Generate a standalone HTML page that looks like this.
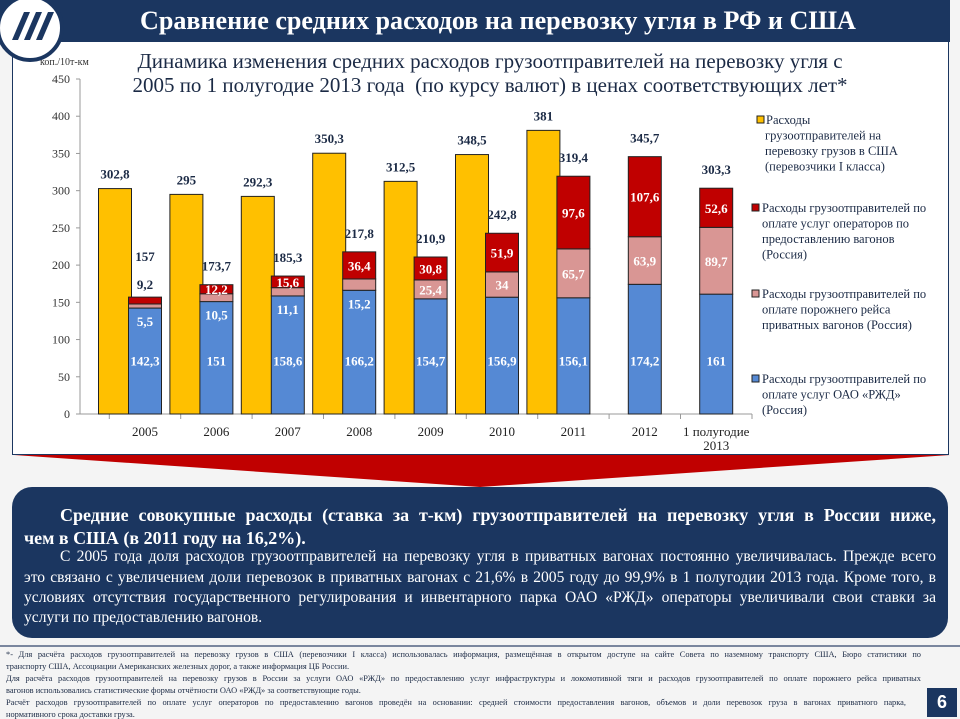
<!DOCTYPE html>
<html lang="ru"><head><meta charset="utf-8">
<style>
html,body{margin:0;padding:0;width:960px;height:717px;overflow:hidden;background:#f4f4f4;font-family:"Liberation Serif","Noto Serif CJK SC",serif;}
.abs{position:absolute}
#title-bar{left:0;top:0;width:950px;height:42px;background:#1b3660;color:#fff;}
#title-text{left:140px;top:5px;font-size:26.5px;font-weight:bold;white-space:nowrap;transform:scaleX(0.985);transform-origin:left top;}
#logo{left:-4px;top:-6px;width:68px;height:68px;border-radius:50%;background:#fff;border:4px solid #1b3660;box-sizing:border-box;}
#panel{left:12px;top:42px;width:937px;height:413px;background:#fff;border:1px solid #1b3660;border-top:none;box-sizing:border-box;}
#subtitle{left:100px;top:49px;width:780px;text-align:center;font-size:21px;line-height:24px;color:#1b2a45;white-space:nowrap;}
#summary{left:12px;top:487px;width:936px;height:151px;background:#1b3660;border-radius:20px;color:#fff;overflow:hidden;}
.ln{position:absolute;left:12px;width:912px;white-space:nowrap;text-align:justify;text-align-last:justify;transform-origin:left top;}
.last{text-align-last:left;}
.big{font-size:18px;font-weight:bold;}
.small{font-size:15.6px;}
#footnote{left:6px;top:650px;width:920px;font-size:8.4px;color:#1b2a45;}
.fl{position:absolute;left:0;width:915px;white-space:nowrap;text-align:justify;text-align-last:justify;transform-origin:left top;}
#sep{left:0;top:645px;width:960px;height:2px;background:#7a869e}
#pagenum{left:927px;top:688px;width:30px;height:29px;background:#1b3660;color:#fff;font:bold 18px "Liberation Sans",sans-serif;text-align:center;line-height:29px;}
</style></head><body>
<div class="abs" id="title-bar"><div class="abs" id="title-text">Сравнение средних расходов на перевозку угля в РФ и США</div></div>
<div class="abs" id="panel"></div>
<div class="abs" id="logo">
<svg width="60" height="60" viewBox="0 0 60 60"><g fill="#1b3660"><path d="M12 42 L24 14 L30 14 L18 42Z"/><path d="M24 42 L36 14 L42 14 L30 42Z"/><path d="M36 42 L48 14 L54 14 L42 42Z"/></g></svg></div>
<div class="abs" id="subtitle">Динамика изменения средних расходов грузоотправителей на перевозку угля с<br>2005 по 1 полугодие 2013 года&nbsp; (по курсу валют) в ценах соответствующих лет*</div>
<svg class="abs" style="left:0;top:0" width="960" height="490" id="chart">
<polygon points="14,455 950,455 480,487" fill="#c00000"/>
</svg>
<div class="abs" id="summary">
<div class="ln big" style="top:18px;left:48px;width:876px">Средние совокупные расходы (ставка за т-км) грузоотправителей на перевозку угля в России ниже,</div>
<div class="ln big last" style="top:41px">чем в США (в 2011 году на 16,2%).</div>
<div class="ln small" style="top:61px;left:48px;width:876px">С 2005 года доля расходов грузоотправителей на перевозку угля в приватных вагонах постоянно увеличивалась. Прежде всего</div>
<div class="ln small" style="top:82px">это связано с увеличением доли перевозок в приватных вагонах с 21,6% в 2005 году до 99,9% в 1 полугодии 2013 года. Кроме того, в</div>
<div class="ln small" style="top:102px">условиях отсутствия государственного регулирования и инвентарного парка ОАО «РЖД» операторы увеличивали свои ставки за</div>
<div class="ln small last" style="top:122px">услуги по предоставлению вагонов.</div>
</div>
<div class="abs" id="sep"></div>
<div class="abs" id="footnote">
<div class="fl" style="top:0">*- Для расчёта расходов грузоотправителей на перевозку грузов в США (перевозчики I класса) использовалась информация, размещённая в открытом доступе на сайте Совета по наземному транспорту США, Бюро статистики по</div>
<div class="fl" style="top:12px;text-align-last:left">транспорту США, Ассоциации Американских железных дорог, а также информация ЦБ России.</div>
<div class="fl" style="top:24px">Для расчёта расходов грузоотправителей на перевозку грузов в России за услуги ОАО «РЖД» по предоставлению услуг инфраструктуры и локомотивной тяги и расходов грузоотправителей по оплате порожнего рейса приватных</div>
<div class="fl" style="top:36px;text-align-last:left">вагонов использовались статистические формы отчётности ОАО «РЖД» за соответствующие годы.</div>
<div class="fl" style="top:48px;width:900px">Расчёт расходов грузоотправителей по оплате услуг операторов по предоставлению вагонов проведён на основании: средней стоимости предоставления вагонов, объемов и доли перевозок груза в вагонах приватного парка,</div>
<div class="fl" style="top:60px;text-align-last:left">нормативного срока доставки груза.</div>
</div>
<div class="abs" id="pagenum">6</div>
<script>
const categories=["2005","2006","2007","2008","2009","2010","2011","2012","1 полугодие|2013"];
const usValues=[302.8,295,292.3,350.3,312.5,348.5,381,null,null];
const rzdValues=[142.3,151,158.6,166.2,154.7,156.9,156.1,174.2,161];
const emptyRunValues=[5.5,10.5,11.1,15.2,25.4,34,65.7,63.9,89.7];
const operatorValues=[9.2,12.2,15.6,36.4,30.8,51.9,97.6,107.6,52.6];
const totalValues=[157,173.7,185.3,217.8,210.9,242.8,319.4,345.7,303.3];
const yTicks=[0,50,100,150,200,250,300,350,400,450];
const legendLabels=[["Расходы","грузоотправителей на","перевозку грузов  в США","(перевозчики I класса)"],["Расходы грузоотправителей по","оплате услуг операторов по","предоставлению вагонов","(Россия)"],["Расходы грузоотправителей по","оплате порожнего рейса","приватных вагонов (Россия)"],["Расходы грузоотправителей по","оплате услуг ОАО «РЖД»","(Россия)"]];

document.querySelectorAll('.ln,.fl').forEach(el=>{
 const target=el.clientWidth;
 const s=document.createElement('span');
 s.style.whiteSpace='nowrap';
 s.textContent=el.textContent;
 el.textContent='';el.appendChild(s);
 const w=s.getBoundingClientRect().width;
 if(w>target){el.style.width=w+'px';el.style.transform='scaleX('+(target/w)+')';}
});

const NS="http://www.w3.org/2000/svg";
const svg=document.getElementById('chart');
const Y0=414,PX=335/450,X0=145,STEP=71.4,BW=33;
const y=v=>Y0-v*PX;
const x=i=>X0+i*STEP;
function mk(t,a,txt){const e=document.createElementNS(NS,t);for(const k in a)e.setAttribute(k,a[k]);if(txt!==undefined)e.textContent=txt;svg.appendChild(e);return e;}
const fmt=v=>String(v).replace('.',',');
const F='"Liberation Serif",serif';
let ax=mk('line',{x1:80,y1:Y0,x2:752,y2:Y0,stroke:'#999'});

let ay=mk('line',{x1:80,y1:y(450),x2:80,y2:Y0,stroke:'#999'});

yTicks.forEach(t=>{
 mk('line',{x1:76,y1:y(t),x2:80,y2:y(t),stroke:'#999'});
 const l=mk('text',{x:70,y:y(t)+4,'text-anchor':'end','font-size':12,'font-family':F,fill:'#333'},t);
 
});
const u=mk('text',{x:40,y:65,'font-size':10,'font-family':F,fill:'#333'},'коп./10т-км');

categories.forEach((c,i)=>{
 mk('line',{x1:x(i)-STEP/2,y1:Y0,x2:x(i)-STEP/2,y2:Y0+5,stroke:'#999'});
 const parts=c.split('|');
 parts.forEach((p,k)=>{
  const t=mk('text',{x:x(i),y:436+k*14,'text-anchor':'middle','font-size':13,'font-family':F,fill:'#222'},p);
  
 });
});
mk('line',{x1:752,y1:Y0,x2:752,y2:Y0+5,stroke:'#999'});
function rect(x0,v0,v1,fill,name){
 const r=mk('rect',{x:x0,y:y(v1),width:BW,height:y(v0)-y(v1),fill:fill,stroke:'#222','stroke-width':1});
 return r;
}
function lab(xx,yy,txt,col,name){
 const t=mk('text',{x:xx,y:yy,'text-anchor':'middle','font-size':13,'font-weight':'bold','font-family':F,fill:col},txt);
 
}
categories.forEach((c,i)=>{
 const cx=x(i);
 if(usValues[i]!=null){
  rect(cx-BW/2-30,0,usValues[i],'#ffc000','bar-us');
  lab(cx-30,y(usValues[i])-10,fmt(usValues[i]),'#1b2a45','label-us');
 }
 const b=rzdValues[i],p=b+emptyRunValues[i],r=p+operatorValues[i];
 rect(cx-BW/2,0,b,'#5589d4','bar-rzd');
 rect(cx-BW/2,b,p,'#d99694','bar-empty-run');
 rect(cx-BW/2,p,r,'#c00000','bar-operator');
 lab(cx,y(65),fmt(rzdValues[i]),'#fff','label-rzd');
 const ph=(p-b)*PX;
 if(ph>15) lab(cx,(y(b)+y(p))/2+5,fmt(emptyRunValues[i]),'#fff','label-empty-run');
 else lab(cx,y(b)+18,fmt(emptyRunValues[i]),'#fff','label-empty-run');
 const rh=(r-p)*PX;
 let top=y(r);
 if(rh>8){lab(cx,(y(p)+y(r))/2+5,fmt(operatorValues[i]),'#fff','label-operator');}
 else{lab(cx,top-8,fmt(operatorValues[i]),'#1b2a45','label-operator');top-=22;}
 lab(cx,top-14,fmt(totalValues[i]),'#1b2a45','label-total');
});
const lc=['#ffc000','#c00000','#d99694','#5589d4'];
const ly=[124,212,298,383];
legendLabels.forEach((lines,i)=>{
 const s=mk('rect',{x:i==0?757:752,y:ly[i]-8,width:7,height:7,fill:lc[i],stroke:'#222'});
 
 lines.forEach((ln,k)=>{
  const t=mk('text',{x:(i==0&&k==0)?766:(i==0?765:762),y:ly[i]+k*15.5,'font-size':12.5,'font-family':F,fill:'#1b2a45'},ln);
  
 });
});
</script>
</body></html>
